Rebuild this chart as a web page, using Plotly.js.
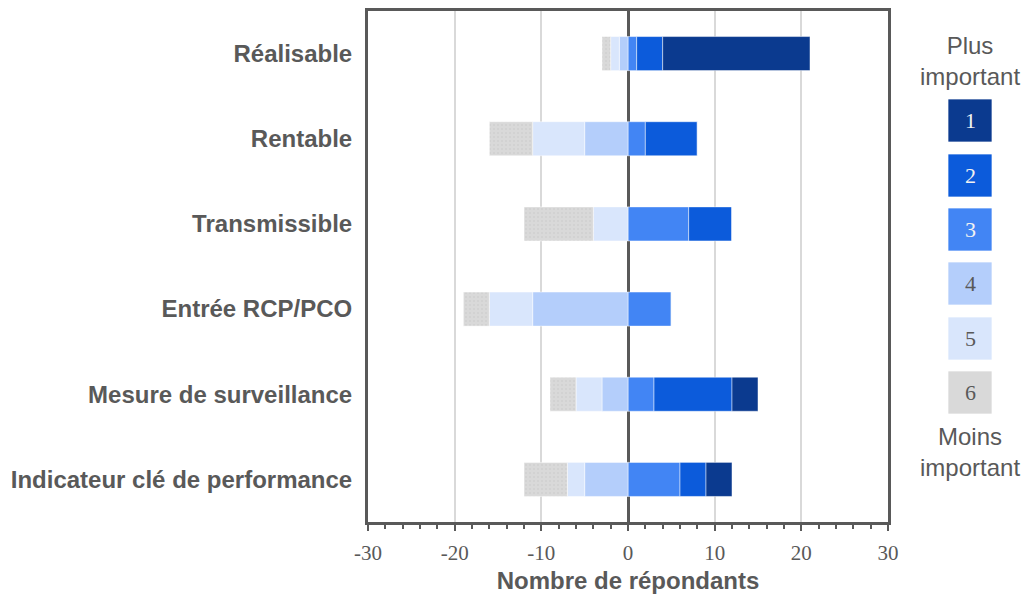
<!DOCTYPE html>
<html>
<head>
<meta charset="utf-8">
<script src="https://cdn.plot.ly/plotly-3.0.1.min.js"></script>
<style>
  html, body { margin: 0; padding: 0; background: #ffffff; }
  #chart { width: 1029px; height: 596px; }
</style>
</head>
<body>
<div id="chart"></div>
<script>
// ---- Data ----
const categories = ['Réalisable', 'Rentable', 'Transmissible', 'Entrée RCP/PCO', 'Mesure de surveillance', 'Indicateur clé de performance'];
const rank1 = [17, 0, 0, 0, 3, 3];
const rank2 = [3, 6, 5, 0, 9, 3];
const rank3 = [1, 2, 7, 5, 3, 6];
const rank4 = [1, 5, 0, 11, 3, 5];
const rank5 = [1, 6, 4, 5, 3, 2];
const rank6 = [1, 5, 8, 3, 3, 5];
const rankLabels = ['1', '2', '3', '4', '5', '6'];
const legendTop = 'Plus<br>important';
const legendBottom = 'Moins<br>important';
const xTitle = 'Nombre de répondants';
const xTicks = [-30, -20, -10, 0, 10, 20, 30];

// ---- Style ----
const rankColors = ['#0b3a8f', '#0c5bdb', '#4285f4', '#b4cefb', '#d9e6fc', '#d9d9d9'];
const numColors = ['#f2f2f2', '#f2f2f2', '#f2f2f2', '#595959', '#595959', '#595959'];
const grey = '#595959';
const sans = 'Liberation Sans, Arial, sans-serif';
const serif = 'Liberation Serif, Times New Roman, serif';

const ranks = [rank1, rank2, rank3, rank4, rank5, rank6];
// positive side: ranks 1-3 (3 nearest zero); negative side: ranks 4-6 (4 nearest zero)
const order = [2, 1, 0, 3, 4, 5];
const traces = order.map(i => {
  const sign = i <= 2 ? 1 : -1;
  const marker = { color: rankColors[i], line: { color: 'rgba(255,255,255,0.6)', width: 0.8 } };
  if (i === 5) {
    marker.pattern = { shape: '.', bgcolor: '#d9d9d9', fgcolor: '#d0d0d0', size: 4, solidity: 0.2 };
  }
  return {
    type: 'bar',
    orientation: 'h',
    name: rankLabels[i],
    y: categories,
    x: ranks[i].map(v => sign * v),
    marker: marker,
    hoverinfo: 'skip'
  };
});

// Legend placement helpers (pixel -> paper)
const L = 368, R = 888, T = 11, B = 522;
const px = x => (x - L) / (R - L);
const py = y => (B - y) / (B - T);

const shapes = [];
const annotations = [];
const boxTops = [99, 154, 208, 262, 317, 371];
const boxH = 43, boxL = 948, boxR = 992;
rankLabels.forEach((lab, i) => {
  const y0 = boxTops[i], y1 = boxTops[i] + boxH;
  shapes.push({
    type: 'rect', xref: 'paper', yref: 'paper',
    x0: px(boxL), x1: px(boxR), y0: py(y1), y1: py(y0),
    fillcolor: rankColors[i], line: { color: 'rgba(255,255,255,0.7)', width: 1 }, layer: 'above'
  });
  annotations.push({
    xref: 'paper', yref: 'paper', x: px((boxL + boxR) / 2), y: py((y0 + y1) / 2),
    text: lab, showarrow: false, xanchor: 'center', yanchor: 'middle',
    font: { family: serif, size: 22, color: numColors[i] }
  });
});
annotations.push({
  xref: 'paper', yref: 'paper', x: px(970), y: py(61), text: legendTop, showarrow: false,
  xanchor: 'center', yanchor: 'middle', align: 'center',
  font: { family: sans, size: 24, color: grey }
});
annotations.push({
  xref: 'paper', yref: 'paper', x: px(970), y: py(452), text: legendBottom, showarrow: false,
  xanchor: 'center', yanchor: 'middle', align: 'center',
  font: { family: sans, size: 24, color: grey }
});

const layout = {
  width: 1029, height: 596,
  margin: { l: L, r: 1029 - R, t: T, b: 596 - B },
  paper_bgcolor: '#ffffff', plot_bgcolor: '#ffffff',
  barmode: 'relative',
  bargap: 0.6,
  showlegend: false,
  hovermode: false,
  xaxis: {
    range: [-30, 30],
    tickvals: xTicks,
    ticktext: xTicks.map(String),
    showgrid: true, gridcolor: '#d9d9d9', gridwidth: 2,
    zeroline: true, zerolinecolor: grey, zerolinewidth: 3,
    showline: true, linecolor: grey, linewidth: 3, mirror: true,
    ticks: 'outside', ticklen: 6, tickwidth: 2, tickcolor: grey,
    minor: { dtick: 2, ticks: 'outside', ticklen: 4, tickwidth: 2, tickcolor: grey, showgrid: false },
    tickfont: { family: serif, size: 21, color: grey },
    ticklabelstandoff: 4,
    title: { text: xTitle, font: { family: sans, size: 24, color: grey, weight: 'bold' }, standoff: 8 },
    fixedrange: true
  },
  yaxis: {
    type: 'category',
    autorange: 'reversed',
    showgrid: false, zeroline: false,
    showline: true, linecolor: grey, linewidth: 3, mirror: true,
    ticks: '',
    ticklabelstandoff: 8,
    tickfont: { family: sans, size: 24, color: grey, weight: 'bold' },
    fixedrange: true
  },
  shapes: shapes,
  annotations: annotations
};

Plotly.newPlot('chart', traces, layout, { displayModeBar: false, staticPlot: true });
</script>
</body>
</html>
